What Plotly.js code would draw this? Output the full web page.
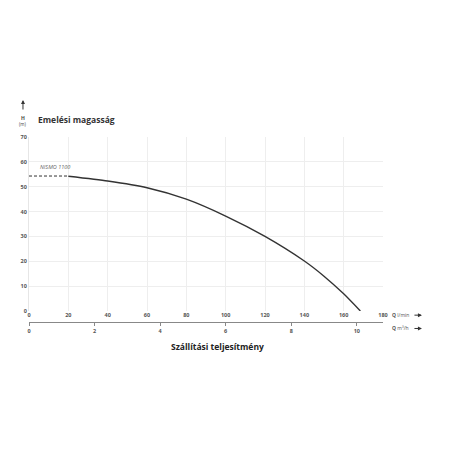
<!DOCTYPE html>
<html>
<head>
<meta charset="utf-8">
<script src="https://cdn.plot.ly/plotly-3.0.1.min.js"></script>
<style>
  html, body { margin: 0; padding: 0; background: #fff; }
  #myDiv { width: 456px; height: 456px; }
</style>
</head>
<body>
<div id="myDiv"></div>
<script>
// pump curve NISMO 1100, Q in l/min, H in m
let qDashed = [0, 20];
let hDashed = [54.3, 54.3];
let qCurve = [20, 40, 60, 80, 100, 120, 140, 150, 160, 168.5];
let hCurve = [54.2, 52.3, 49.6, 45.0, 38.2, 30.0, 20.1, 14.0, 6.9, 0];
let qLminTicks = [0, 20, 40, 60, 80, 100, 120, 140, 160, 180];
let qM3hTicks = [0, 2, 4, 6, 8, 10];
let hTicks = [0, 10, 20, 30, 40, 50, 60, 70];

function tickFont() {
  return {family: 'Open Sans, sans-serif', size: 5.5, color: '#555', weight: 'bold'};
}

let dashed = {
  x: qDashed, y: hDashed,
  type: 'scatter', mode: 'lines',
  line: {color: '#333', width: 1, dash: '3px,2px'},
  hoverinfo: 'skip', showlegend: false
};
let curve = {
  x: qCurve, y: hCurve,
  type: 'scatter', mode: 'lines',
  line: {color: '#333', width: 1.4, shape: 'spline', smoothing: 0.6},
  showlegend: false
};
// carrier for the m3/h scale
let m3h = {
  x: qM3hTicks, y: qM3hTicks.map(() => 0),
  xaxis: 'x2', type: 'scatter', mode: 'lines',
  opacity: 0, hoverinfo: 'skip', showlegend: false
};

let layout = {
  width: 456, height: 456,
  margin: {l: 28.5, r: 73, t: 137, b: 134},
  paper_bgcolor: '#fff', plot_bgcolor: '#fff',
  xaxis: {
    range: [0, 180], tickvals: qLminTicks,
    showgrid: true, gridcolor: '#eeeeee', gridwidth: 1,
    zeroline: false, showline: false, ticks: '',
    tickfont: tickFont(), ticklen: 0,
    anchor: 'y', fixedrange: true
  },
  xaxis2: {
    range: [0, 10.8], tickvals: qM3hTicks,
    overlaying: 'x', anchor: 'free', position: 0, side: 'bottom',
    showgrid: false, zeroline: false,
    showline: true, linecolor: '#888', linewidth: 1,
    ticks: 'outside', ticklen: 3, tickcolor: '#888', tickwidth: 1,
    tickfont: tickFont(), fixedrange: true
  },
  yaxis: {
    range: [0, 70], tickvals: hTicks, domain: [0.0595, 1],
    showgrid: true, gridcolor: '#eeeeee', gridwidth: 1,
    zeroline: false, showline: true, linecolor: '#e6e6e6',
    ticks: '', tickfont: tickFont(), fixedrange: true
  },
  annotations: [
    {xref: 'paper', yref: 'paper', x: 0.019, y: 1.095, xanchor: 'left', yanchor: 'middle',
     text: '<b>Emelési magasság</b>', showarrow: false,
     font: {family: 'Open Sans, sans-serif', size: 8.5, color: '#333'}},
    {xref: 'x', yref: 'y', x: 4.5, y: 58, xanchor: 'left', yanchor: 'middle',
     text: '<i>NISMO 1100</i>', showarrow: false,
     font: {family: 'Open Sans, sans-serif', size: 5.5, color: '#666'}},
    {xref: 'paper', yref: 'paper', x: -0.017, y: 1.105, xanchor: 'center', yanchor: 'middle',
     text: '<b>H</b>', showarrow: false,
     font: {family: 'Open Sans, sans-serif', size: 5, color: '#444'}},
    {xref: 'paper', yref: 'paper', x: -0.017, y: 1.072, xanchor: 'center', yanchor: 'middle',
     text: '(m)', showarrow: false,
     font: {family: 'Open Sans, sans-serif', size: 4.5, color: '#444'}},
    {xref: 'paper', yref: 'paper', x: -0.017, y: 1.2, ax: 0, ay: 11,
     text: '', showarrow: true, arrowhead: 2, arrowsize: 0.8, arrowwidth: 1, arrowcolor: '#333'},
    {xref: 'paper', yref: 'paper', x: 1.02, y: 0.037, xanchor: 'left', yanchor: 'middle',
     text: '<b>Q</b> l/min', showarrow: false,
     font: {family: 'Open Sans, sans-serif', size: 5, color: '#555'}},
    {xref: 'paper', yref: 'paper', x: 1.02, y: -0.035, xanchor: 'left', yanchor: 'middle',
     text: '<b>Q</b> m³/h', showarrow: false,
     font: {family: 'Open Sans, sans-serif', size: 5, color: '#555'}},
    {xref: 'paper', yref: 'paper', x: 1.11, y: 0.037, ax: -9, ay: 0,
     text: '', showarrow: true, arrowhead: 2, arrowsize: 0.8, arrowwidth: 1, arrowcolor: '#333'},
    {xref: 'paper', yref: 'paper', x: 1.11, y: -0.035, ax: -9, ay: 0,
     text: '', showarrow: true, arrowhead: 2, arrowsize: 0.8, arrowwidth: 1, arrowcolor: '#333'},
    {xref: 'paper', yref: 'paper', x: 0.532, y: -0.135, xanchor: 'center', yanchor: 'middle',
     text: '<b>Szállítási teljesítmény</b>', showarrow: false,
     font: {family: 'Open Sans, sans-serif', size: 8.5, color: '#222'}}
  ]
};

Plotly.newPlot('myDiv', [dashed, curve, m3h], layout, {displayModeBar: false, staticPlot: true});
</script>
</body>
</html>
